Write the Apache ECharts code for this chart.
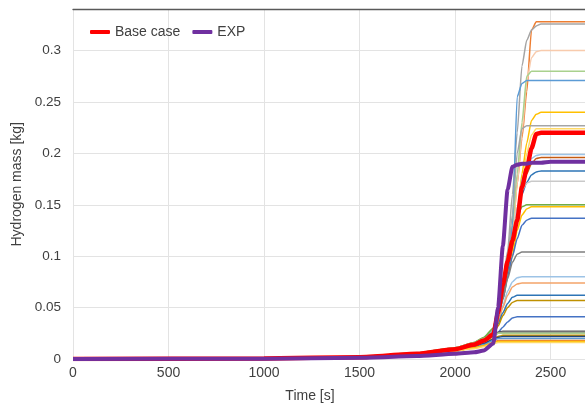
<!DOCTYPE html>
<html>
<head>
<meta charset="utf-8">
<script src="https://cdn.jsdelivr.net/npm/echarts@6/dist/echarts.min.js"></script>
<style>
html,body{margin:0;padding:0;background:#fff;}
#c{width:585px;height:408px;}
</style>
</head>
<body>
<div id="c"></div>
<script>
// Time grid [s]
const time = [0, 1000, 1500, 1800, 2000, 2100, 2150, 2200, 2225, 2250, 2275, 2300, 2325, 2350, 2375, 2400, 2425, 2450, 2500, 2700];

// Hydrogen mass [kg] for the sensitivity cases (thin lines)
const case01 = [0,0.0005,0.002,0.005,0.009,0.013,0.017,0.026,0.045,0.070,0.095,0.120,0.170,0.215,0.260,0.320,0.328,0.328,0.328,0.328];
const case02 = [0,0.0005,0.002,0.005,0.009,0.013,0.018,0.028,0.050,0.075,0.105,0.160,0.220,0.285,0.310,0.320,0.324,0.326,0.326,0.326];
const case03 = [0,0.0005,0.002,0.005,0.009,0.013,0.017,0.026,0.046,0.070,0.095,0.120,0.170,0.220,0.270,0.293,0.299,0.300,0.300,0.300];
const case04 = [0,0.0006,0.0025,0.006,0.011,0.016,0.021,0.030,0.050,0.075,0.100,0.130,0.180,0.230,0.275,0.280,0.280,0.280,0.280,0.280];
const case05 = [0,0.0005,0.002,0.005,0.009,0.013,0.018,0.028,0.045,0.065,0.090,0.130,0.255,0.268,0.271,0.271,0.271,0.271,0.271,0.271];
const case06 = [0,0.0005,0.002,0.005,0.009,0.013,0.017,0.026,0.044,0.065,0.085,0.105,0.140,0.180,0.210,0.232,0.238,0.240,0.240,0.240];
const case07 = [0,0.0005,0.002,0.005,0.009,0.013,0.017,0.027,0.048,0.072,0.100,0.140,0.200,0.224,0.227,0.227,0.227,0.227,0.227,0.227];
const case08 = [0,0.0005,0.002,0.005,0.009,0.013,0.017,0.026,0.044,0.065,0.088,0.110,0.140,0.170,0.200,0.218,0.224,0.224,0.224,0.224];
const case09 = [0,0.0005,0.002,0.005,0.009,0.013,0.017,0.026,0.044,0.065,0.088,0.110,0.140,0.175,0.188,0.195,0.198,0.199,0.199,0.199];
const case10 = [0,0.0005,0.002,0.005,0.009,0.013,0.017,0.026,0.043,0.062,0.085,0.110,0.140,0.165,0.180,0.190,0.195,0.196,0.196,0.196];
const case11 = [0,0.0005,0.002,0.005,0.009,0.013,0.017,0.026,0.043,0.062,0.085,0.110,0.140,0.160,0.172,0.179,0.182,0.183,0.183,0.183];
const case12 = [0,0.0005,0.002,0.005,0.009,0.013,0.017,0.027,0.046,0.068,0.095,0.120,0.148,0.164,0.171,0.173,0.173,0.173,0.173,0.173];
const case13 = [0,0.0006,0.0025,0.006,0.011,0.016,0.021,0.030,0.050,0.072,0.095,0.118,0.138,0.148,0.150,0.150,0.150,0.150,0.150,0.150];
const case14 = [0,0.0005,0.002,0.005,0.009,0.013,0.017,0.025,0.040,0.058,0.080,0.100,0.125,0.140,0.146,0.148,0.148,0.148,0.148,0.148];
const case15 = [0,0.0005,0.002,0.005,0.009,0.013,0.017,0.025,0.040,0.058,0.080,0.100,0.117,0.130,0.135,0.137,0.137,0.137,0.137,0.137];
const case16 = [0,0.0005,0.002,0.005,0.009,0.013,0.017,0.026,0.040,0.058,0.078,0.094,0.102,0.104,0.104,0.104,0.104,0.104,0.104,0.104];
const case17 = [0,0.0005,0.002,0.005,0.009,0.013,0.017,0.025,0.037,0.052,0.066,0.075,0.079,0.080,0.080,0.080,0.080,0.080,0.080,0.080];
const case18 = [0,0.0005,0.002,0.005,0.009,0.013,0.017,0.025,0.036,0.050,0.062,0.070,0.073,0.074,0.074,0.074,0.074,0.074,0.074,0.074];
const case19 = [0,0.0005,0.002,0.005,0.009,0.013,0.017,0.024,0.034,0.045,0.054,0.060,0.062,0.062,0.062,0.062,0.062,0.062,0.062,0.062];
const case20 = [0,0.0005,0.002,0.005,0.009,0.013,0.017,0.024,0.032,0.042,0.050,0.055,0.057,0.057,0.057,0.057,0.057,0.057,0.057,0.057];
const case21 = [0,0.0005,0.002,0.005,0.009,0.013,0.017,0.022,0.026,0.031,0.036,0.040,0.041,0.041,0.041,0.041,0.041,0.041,0.041,0.041];
const case22 = [0,0.0005,0.002,0.005,0.009,0.013,0.017,0.023,0.026,0.027,0.027,0.027,0.027,0.027,0.027,0.027,0.027,0.027,0.027,0.027];
const case23 = [0,0.0005,0.002,0.005,0.009,0.013,0.017,0.022,0.025,0.026,0.026,0.026,0.026,0.026,0.026,0.026,0.026,0.026,0.026,0.026];
const case24 = [0,0.0006,0.0025,0.006,0.011,0.016,0.020,0.023,0.025,0.025,0.025,0.025,0.025,0.025,0.025,0.025,0.025,0.025,0.025,0.025];
const case25 = [0,0.0004,0.0016,0.004,0.008,0.011,0.015,0.020,0.022,0.023,0.023,0.023,0.023,0.023,0.023,0.023,0.023,0.023,0.023,0.023];
const case26 = [0,0.0004,0.0016,0.004,0.008,0.011,0.015,0.019,0.021,0.022,0.022,0.022,0.022,0.022,0.022,0.022,0.022,0.022,0.022,0.022];
const case27 = [0,0.0004,0.0016,0.004,0.008,0.011,0.014,0.018,0.020,0.020,0.020,0.020,0.020,0.020,0.020,0.020,0.020,0.020,0.020,0.020];
const case28 = [0,0.0004,0.0016,0.004,0.008,0.011,0.013,0.016,0.018,0.018,0.018,0.018,0.018,0.018,0.018,0.018,0.018,0.018,0.018,0.018];
const case29 = [0,0.0004,0.0016,0.004,0.008,0.011,0.013,0.016,0.017,0.017,0.017,0.017,0.017,0.017,0.017,0.017,0.017,0.017,0.017,0.017];
const case30 = [0,0.0004,0.0016,0.004,0.008,0.010,0.012,0.015,0.016,0.016,0.016,0.016,0.016,0.016,0.016,0.016,0.016,0.016,0.016,0.016];

// Highlighted curves
const baseCase = [0,0.0006,0.0018,0.005,0.0095,0.014,0.018,0.024,0.045,0.072,0.095,0.115,0.135,0.167,0.185,0.205,0.219,0.220,0.220,0.220];
const expData  = [0,0.0003,0.0012,0.0028,0.005,0.0065,0.0082,0.015,0.050,0.110,0.165,0.187,0.189,0.190,0.190,0.191,0.191,0.191,0.192,0.192];

const legendNames = ['Base case', 'EXP'];
const xTicks = { min: 0, interval: 500 };
const yTicks = { min: 0, max: 0.34, interval: 0.05 };

const thinCases = [
  [case01,'#ED7D31'],[case02,'#A5A5A5'],[case03,'#F8CBAD'],[case04,'#A9D18E'],[case05,'#5B9BD5'],
  [case06,'#FFC000'],[case07,'#A5A5A5'],[case08,'#FFD966'],[case09,'#9DC3E6'],[case10,'#C55A11'],
  [case11,'#2E75B6'],[case12,'#C9C9C9'],[case13,'#70AD47'],[case14,'#FFC000'],[case15,'#4472C4'],
  [case16,'#7F7F7F'],[case17,'#9DC3E6'],[case18,'#F4A46A'],[case19,'#2E75B6'],[case20,'#BF9000'],
  [case21,'#4472C4'],[case22,'#595959'],[case23,'#8C8C8C'],[case24,'#A9D18E'],[case25,'#BF9000'],
  [case26,'#264478'],[case27,'#5B9BD5'],[case28,'#ED7D31'],[case29,'#FFC000'],[case30,'#FFD966']
];

const pair = v => time.map((t, i) => [t, v[i]]);
const font = 'Liberation Sans, Arial, sans-serif';

const series = thinCases.map((c, i) => ({
  name: 'case' + (i + 1),
  type: 'line',
  data: pair(c[0]),
  showSymbol: false,
  smooth: 0.2,
  smoothMonotone: 'x',
  lineStyle: { color: c[1], width: 1.5 },
  itemStyle: { color: c[1] },
  z: 2
}));
series.push({
  name: legendNames[0], type: 'line', data: pair(baseCase), showSymbol: false,
  smooth: 0.2, smoothMonotone: 'x',
  lineStyle: { color: '#FF0000', width: 4.5 }, itemStyle: { color: '#FF0000' }, z: 3
});
series.push({
  name: legendNames[1], type: 'line', data: pair(expData), showSymbol: false,
  smooth: 0.2, smoothMonotone: 'x',
  lineStyle: { color: '#7030A0', width: 4 }, itemStyle: { color: '#7030A0' }, z: 4
});

const chart = echarts.init(document.getElementById('c'));
chart.setOption({
  animation: false,
  backgroundColor: '#fff',
  textStyle: { fontFamily: font },
  grid: { left: 73, right: 0, top: 9.5, bottom: 45 },
  legend: {
    data: legendNames,
    left: 85, top: 20,
    icon: 'roundRect', itemWidth: 20, itemHeight: 4, itemGap: 12,
    textStyle: { fontSize: 14, color: '#404040', fontFamily: font }
  },
  xAxis: [{
    type: 'value', min: xTicks.min, max: 2680, interval: xTicks.interval,
    name: 'Time [s]', nameLocation: 'middle', nameGap: 30,
    nameTextStyle: { fontSize: 14, color: '#404040', padding: [0, 38, 0, 0] },
    axisLine: { show: false }, axisTick: { show: false },
    axisLabel: { fontSize: 14, color: '#404040', margin: 7, showMaxLabel: false,
                 formatter: v => String(v) },
    splitLine: { lineStyle: { color: '#E3E3E3', width: 1 } }
  }, {
    type: 'value', position: 'top', min: xTicks.min, max: 2680, interval: xTicks.interval,
    axisLine: { show: true, lineStyle: { color: '#595959', width: 1.3 } },
    axisTick: { show: false }, axisLabel: { show: false }, splitLine: { show: false }
  }],
  yAxis: {
    type: 'value', min: yTicks.min, max: yTicks.max, interval: yTicks.interval,
    name: 'Hydrogen mass [kg]', nameLocation: 'middle', nameGap: 44,
    nameTextStyle: { fontSize: 14, color: '#404040' },
    axisLine: { show: false }, axisTick: { show: false },
    axisLabel: { fontSize: 13.5, color: '#404040', margin: 12, showMaxLabel: false,
                 formatter: v => String(v) },
    splitLine: { lineStyle: { color: '#E3E3E3', width: 1 } }
  },
  series: series
});
</script>
</body>
</html>
